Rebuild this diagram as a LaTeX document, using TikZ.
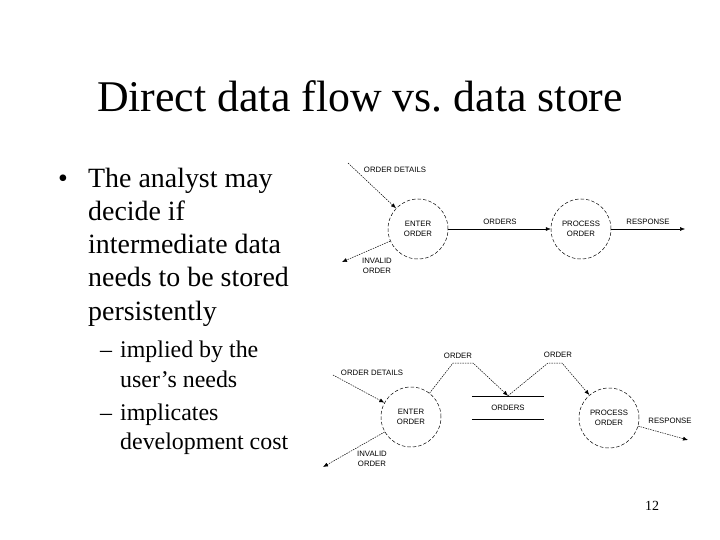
\documentclass[tikz,border=0pt]{standalone}
\usepackage{fontspec}
\setmainfont{Liberation Serif}
\newfontfamily\dfdfont{Liberation Sans}
\usetikzlibrary{arrows.meta,positioning}

\begin{document}
\begin{tikzpicture}[x=1bp,y=-1bp,line join=round,>={Latex[length=5bp,width=4bp]}]
    \tikzset{proc/.style={circle,draw,dash pattern=on 3.5bp off 2bp,line width=0.5bp,minimum size=60bp,inner sep=0pt,align=center,font=\dfdfont\fontsize{7.8}{9.5}\selectfont},
        lbl/.style={font=\dfdfont\fontsize{7.8}{9.5}\selectfont,align=center,inner sep=0pt},
        flow/.style={->,line width=0.5bp},
        dflow/.style={flow,dash pattern=on 1.5bp off 1bp},
        bul/.style={font=\fontsize{28}{33}\selectfont,inner sep=0pt,anchor=base west},
        subbul/.style={font=\fontsize{24}{29}\selectfont,inner sep=0pt,anchor=base west}}
    \useasboundingbox[fill=white] (0,0) rectangle (720,540);
    % title and text
    \node[font=\fontsize{44}{50}\selectfont,anchor=base,inner sep=0pt] (title) at (360,112) {Direct data flow vs.\ data store};
    \node[bul] (dot) at (58,188) {\textbullet};
    \foreach \txt [count=\i] in {The analyst may,decide if,intermediate data,needs to be stored,persistently}
        \node[bul] (b\i) at (88,155+33*\i) {\txt};
    \node[subbul] (d1) at (100,357) {--};
    \node[subbul] (s1) at (120,357) {implied by the};
    \node[subbul] (s2) at (120,387) {user's needs};
    \node[subbul] (d2) at (100,420) {--};
    \node[subbul] (s3) at (120,420) {implicates};
    \node[subbul] (s4) at (120,449) {development cost};
    \node[font=\fontsize{14}{16}\selectfont,inner sep=0pt] (pg) at (652,506) {12};
    % direct data flow
    \node[proc] (enter1) at (418,229) {ENTER\\ORDER};
    \node[proc] (proc1) at (581,229) {PROCESS\\ORDER};
    \coordinate (od1) at (348,163);
    \coordinate (inv1) at (342,262);
    \coordinate (resp1) at (685,229);
    \draw[dflow] (od1) -- (enter1);
    \draw[dflow] (enter1) -- (inv1);
    \draw[flow] (enter1) -- (proc1);
    \draw[flow] (proc1) -- (resp1);
    \node[lbl] (odl1) at (395,170) {ORDER DETAILS};
    \node[lbl] (invl1) at (377,266) {INVALID\\ORDER};
    \node[lbl] (ordl1) at (500,222) {ORDERS};
    \node[lbl] (respl1) at (648,222) {RESPONSE};
    % with data store
    \node[proc] (enter2) at (411,417) {ENTER\\ORDER};
    \node[proc] (proc2) at (609,418) {PROCESS\\ORDER};
    \node[lbl,minimum width=72bp,minimum height=23bp] (store) at (508,407.5) {ORDERS};
    \draw[line width=0.5bp] (store.north west) -- (store.north east) (store.south west) -- (store.south east);
    \coordinate (od2) at (333,375);
    \coordinate (inv2) at (323,467);
    \coordinate (resp2) at (688,440);
    \coordinate (o1a) at (453,363);
    \coordinate (o1b) at (473,363);
    \coordinate (o2a) at (548,363);
    \coordinate (o2b) at (562,363);
    \draw[dflow] (od2) -- (enter2);
    \draw[dflow] (enter2) -- (inv2);
    \draw[dflow] (enter2) -- (o1a) -- (o1b) -- (store.north);
    \draw[dflow] (store.north) -- (o2a) -- (o2b) -- (proc2);
    \draw[dflow] (proc2) -- (resp2);
    \node[lbl] (odl2) at (372,373) {ORDER DETAILS};
    \node[lbl] (invl2) at (372,459) {INVALID\\ORDER};
    \node[lbl] (o1l) at (458,356) {ORDER};
    \node[lbl] (o2l) at (558,355) {ORDER};
    \node[lbl] (respl2) at (670,421) {RESPONSE};
\end{tikzpicture}
\end{document}
